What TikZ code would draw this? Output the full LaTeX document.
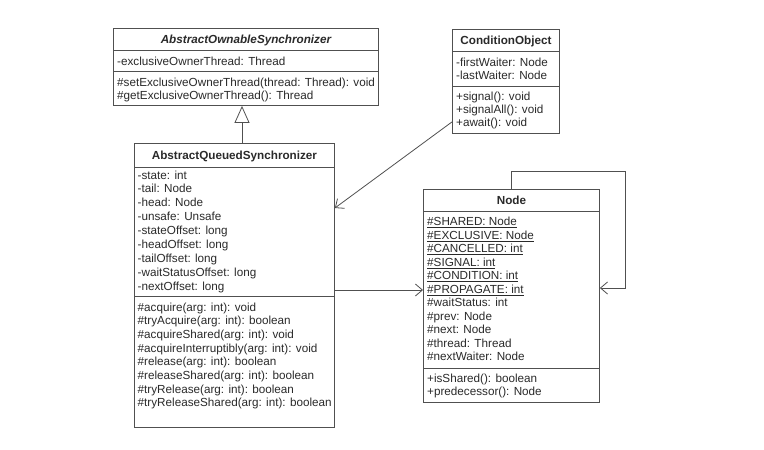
\documentclass[tikz,border=0pt]{standalone}
\usepackage{fontspec}
\setmainfont{Liberation Sans}
\usetikzlibrary{arrows.meta,calc}
\definecolor{lncol}{HTML}{505050}
\definecolor{txcol}{HTML}{2A2A2A}
\newcommand\umllines[5]{%
  \foreach \txtline [count=\i from 0] in {#5}{%
    \node[txt] (#1\i) at (#2,{#3+#4*\i}) {\txtline};}}
\begin{document}
\begin{tikzpicture}[x=1pt,y=-1pt,
  box/.style={draw=lncol,line width=0.9pt,inner sep=0pt,anchor=north west},
  sep/.style={draw=lncol,line width=0.9pt},
  txt/.style={anchor=base west,inner sep=0pt,text=txcol,font=\fontsize{11.7}{13.6}\selectfont},
  title/.style={anchor=base,inner sep=0pt,text=txcol,font=\fontsize{11.7}{13.6}\selectfont\bfseries},
  assoc/.style={draw=lncol,line width=0.8pt,-{Straight Barb[length=7pt,width=12pt]}},
  inherit/.style={draw=lncol,line width=0.8pt,-{Triangle[open,length=17pt,width=15pt,fill=white]}}]
\useasboundingbox (0,0) rectangle (764,450);
\fill[white] (0,0) rectangle (764,450);

% AbstractOwnableSynchronizer
\node[box,minimum width=265pt,minimum height=77pt] (aos) at (113,28) {};
\draw[sep] ($(aos.north west)+(0,22.7)$) -- ($(aos.north east)+(0,22.7)$);
\draw[sep] ($(aos.north west)+(0,43.7)$) -- ($(aos.north east)+(0,43.7)$);
\node[title] (aosT) at ($(aos.north)+(0,15.6)$) {\itshape AbstractOwnableSynchronizer};
\umllines{aosA}{117}{65}{13.6}{-exclusiveOwnerThread: Thread}
\umllines{aosM}{117}{86}{13.6}{\#setExclusiveOwnerThread(thread: Thread): void,%
\#getExclusiveOwnerThread(): Thread}

% ConditionObject
\node[box,minimum width=107pt,minimum height=104pt] (co) at (452,29) {};
\draw[sep] ($(co.north west)+(0,22.5)$) -- ($(co.north east)+(0,22.5)$);
\draw[sep] ($(co.north west)+(0,57)$) -- ($(co.north east)+(0,57)$);
\node[title] (coT) at ($(co.north)+(0,15)$) {ConditionObject};
\umllines{coA}{456}{66}{13.3}{-firstWaiter: Node,-lastWaiter: Node}
\umllines{coM}{456}{100}{13.3}{+signal(): void,+signalAll(): void,+await(): void}

% AbstractQueuedSynchronizer
\node[box,minimum width=200pt,minimum height=284pt] (aqs) at (134,143) {};
\draw[sep] ($(aqs.north west)+(0,24)$) -- ($(aqs.north east)+(0,24)$);
\draw[sep] ($(aqs.north west)+(0,153)$) -- ($(aqs.north east)+(0,153)$);
\node[title] (aqsT) at ($(aqs.north)+(0,16.5)$) {AbstractQueuedSynchronizer};
\umllines{aqsA}{137.5}{179}{13.9}{-state: int,-tail: Node,-head: Node,-unsafe: Unsafe,%
-stateOffset: long,-headOffset: long,-tailOffset: long,-waitStatusOffset: long,-nextOffset: long}
\umllines{aqsM}{137.5}{311}{13.7}{\#acquire(arg: int): void,\#tryAcquire(arg: int): boolean,%
\#acquireShared(arg: int): void,\#acquireInterruptibly(arg: int): void,%
\#release(arg: int): boolean,\#releaseShared(arg: int): boolean,%
\#tryRelease(arg: int): boolean,\#tryReleaseShared(arg: int): boolean}

% Node
\node[box,minimum width=176pt,minimum height=212.5pt] (node) at (423,189) {};
\draw[sep] ($(node.north west)+(0,22.5)$) -- ($(node.north east)+(0,22.5)$);
\draw[sep] ($(node.north west)+(0,179)$) -- ($(node.north east)+(0,179)$);
\node[title] (nodeT) at ($(node.north)+(0,15.5)$) {Node};
\umllines{nodeA}{427}{225.7}{13.5}{{\underline{\#SHARED: Node}},{\underline{\#EXCLUSIVE: Node}},%
{\underline{\#CANCELLED: int}},{\underline{\#SIGNAL: int}},{\underline{\#CONDITION: int}},%
{\underline{\#PROPAGATE: int}},\#waitStatus: int,\#prev: Node,\#next: Node,%
\#thread: Thread,\#nextWaiter: Node}
\umllines{nodeM}{427}{382}{13.7}{+isShared(): boolean,+predecessor(): Node}

% connectors
\coordinate (tx) at (242,0);
\draw[inherit] (aqs.north -| tx) -- (aos.south -| tx);
\draw[assoc] ($(co.south west)+(0,-12)$) -- ($(aqs.north east)+(0,65)$);
\draw[assoc] ($(aqs.north east)+(0,147)$) -- ($(node.north west)+(0,101)$);
\draw[assoc] (node.north) -- ++(0,-18) -- ++(114,0) -- ++(0,117) -- ($(node.north east)+(0,99)$);
\end{tikzpicture}
\end{document}
